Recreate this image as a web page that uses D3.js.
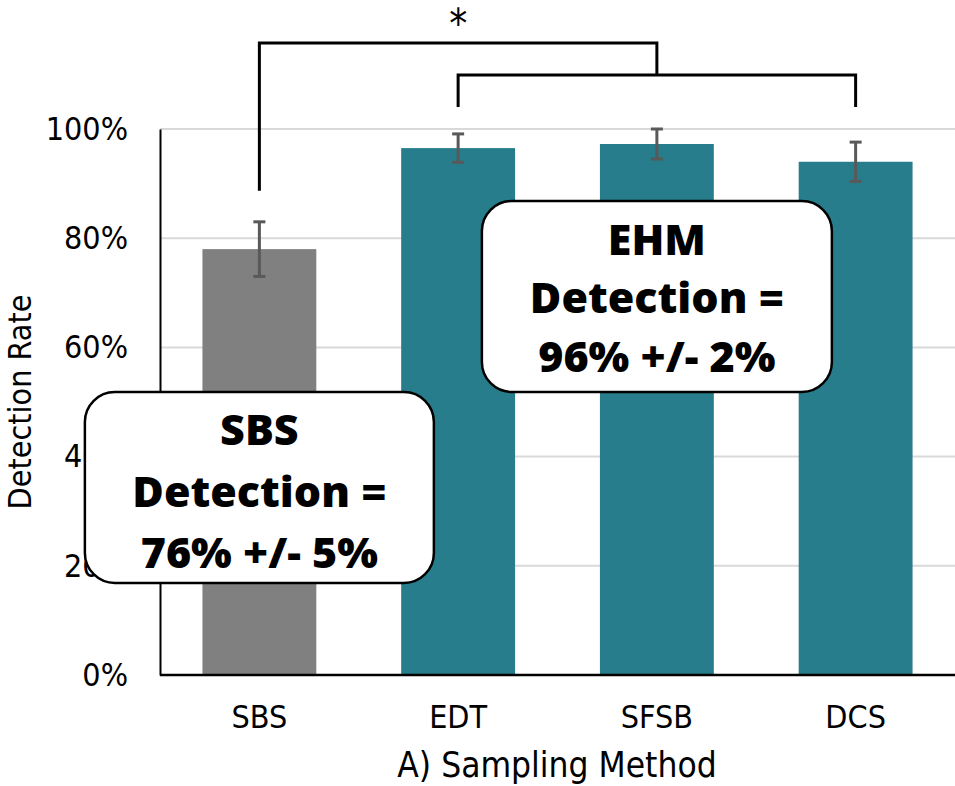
<!DOCTYPE html>
<html>
<head>
<meta charset="utf-8">
<script src="https://cdn.jsdelivr.net/npm/d3@7"></script>
<style>
  html, body { margin: 0; padding: 0; background: #fff; }
  svg { display: block; }
</style>
</head>
<body>
<svg id="chart" width="955" height="786"></svg>
<script>
// ---- data ----
const categories = ["SBS", "EDT", "SFSB", "DCS"];
const values = [0.780, 0.965, 0.9725, 0.940];
const errors = [0.050, 0.026, 0.0275, 0.036];
const barColors = ["#808080", "#277D8B", "#277D8B", "#277D8B"];
const yTicks = [0, 0.2, 0.4, 0.6, 0.8, 1.0];
const xTitle = "A) Sampling Method";
const yTitle = "Detection Rate";
const sbsBoxLines = ["SBS", "Detection =", "76% +/- 5%"];
const ehmBoxLines = ["EHM", "Detection =", "96% +/- 2%"];
const sigLabel = "*";

// ---- layout ----
const svg = d3.select("#chart");
const margin = { left: 160, right: 0, top: 129, bottom: 111 };
const W = 955, H = 786;
const axisFont = "'DejaVu Sans Condensed', 'DejaVu Sans', Verdana, sans-serif";
const boxFont = "'Open Sans', 'Lato', sans-serif";

const x = d3.scaleBand().domain(categories).range([margin.left, W - margin.right]).paddingInner(0.427).paddingOuter(0.2135);
const y = d3.scaleLinear().domain([0, 1]).range([H - margin.bottom, margin.top]);

// gridlines
svg.append("g").selectAll("line").data(yTicks.filter(d => d > 0)).join("line")
  .attr("x1", margin.left).attr("x2", W)
  .attr("y1", d => y(d)).attr("y2", d => y(d))
  .attr("stroke", "#d9d9d9").attr("stroke-width", 2);

// bars
svg.append("g").selectAll("rect").data(categories).join("rect")
  .attr("x", d => x(d))
  .attr("width", x.bandwidth())
  .attr("y", (d, i) => y(values[i]))
  .attr("height", (d, i) => y(0) - y(values[i]))
  .attr("fill", (d, i) => barColors[i]);

// error bars
const eb = svg.append("g").attr("stroke", "#595959").attr("stroke-width", 3);
categories.forEach((c, i) => {
  const cx = x(c) + x.bandwidth() / 2;
  const y1 = y(values[i] + errors[i]), y2 = y(values[i] - errors[i]);
  eb.append("line").attr("x1", cx).attr("x2", cx).attr("y1", y1).attr("y2", y2);
  eb.append("line").attr("x1", cx - 6).attr("x2", cx + 6).attr("y1", y1).attr("y2", y1);
  eb.append("line").attr("x1", cx - 6).attr("x2", cx + 6).attr("y1", y2).attr("y2", y2);
});

// axes
const yAxis = d3.axisLeft(y).tickValues(yTicks).tickFormat(d3.format(".0%")).tickSize(0).tickPadding(32);
const gy = svg.append("g").attr("transform", `translate(${margin.left},0)`).call(yAxis);
gy.select(".domain").attr("stroke", "#000").attr("stroke-width", 2);
gy.selectAll("text").attr("font-family", axisFont).attr("font-size", 32).attr("fill", "#000");

const xAxis = d3.axisBottom(x).tickSize(0).tickPadding(30);
const gx = svg.append("g").attr("transform", `translate(0,${y(0)})`).call(xAxis);
gx.select(".domain").attr("stroke", "#000").attr("stroke-width", 2.5).attr("d", `M${margin.left},0H${W}`);
gx.selectAll("text").attr("font-family", axisFont).attr("font-size", 32).attr("fill", "#000");

// axis titles
svg.append("text").attr("x", 557).attr("y", 777)
  .attr("text-anchor", "middle").attr("font-family", axisFont).attr("font-size", 35).text(xTitle);
svg.append("text").attr("transform", `translate(20,${(y(0) + y(1)) / 2}) rotate(-90)`)
  .attr("text-anchor", "middle").attr("dominant-baseline", "central")
  .attr("font-family", axisFont).attr("font-size", 32).text(yTitle);

// significance brackets
const cx = c => x(c) + x.bandwidth() / 2;
const br = svg.append("g").attr("fill", "none").attr("stroke", "#000").attr("stroke-width", 3);
const yTop = y(1) - 86, yInner = y(1) - 54, yInnerEnd = y(1) - 22;
const yLeftEnd = y(values[0] + errors[0]) - 31;
br.append("path").attr("d", `M${cx("SBS")},${yLeftEnd}V${yTop}H${cx("SFSB")}V${yInner}`);
br.append("path").attr("d", `M${cx("EDT")},${yInnerEnd}V${yInner}H${cx("DCS")}V${yInnerEnd}`);
svg.append("text").attr("x", cx("EDT")).attr("y", 38).attr("text-anchor", "middle")
  .attr("font-family", axisFont).attr("font-size", 40).text(sigLabel);

// annotation boxes
function box(centerX, top, w, h, lines, baselines) {
  const g = svg.append("g");
  g.append("rect").attr("x", centerX - w / 2).attr("y", top).attr("width", w).attr("height", h)
    .attr("rx", 30).attr("ry", 30).attr("fill", "#fff").attr("stroke", "#000").attr("stroke-width", 2.5);
  lines.forEach((t, i) => {
    g.append("text").attr("x", centerX).attr("y", baselines[i]).attr("text-anchor", "middle")
      .attr("font-family", boxFont).attr("font-weight", 800).attr("font-size", 43).attr("fill", "#000").text(t);
  });
}
box(cx("SBS"), 392, 349, 191, sbsBoxLines, [445, 507, 568]);
box(cx("SFSB"), 201, 350, 191, ehmBoxLines, [255, 313, 372]);
</script>
</body>
</html>
